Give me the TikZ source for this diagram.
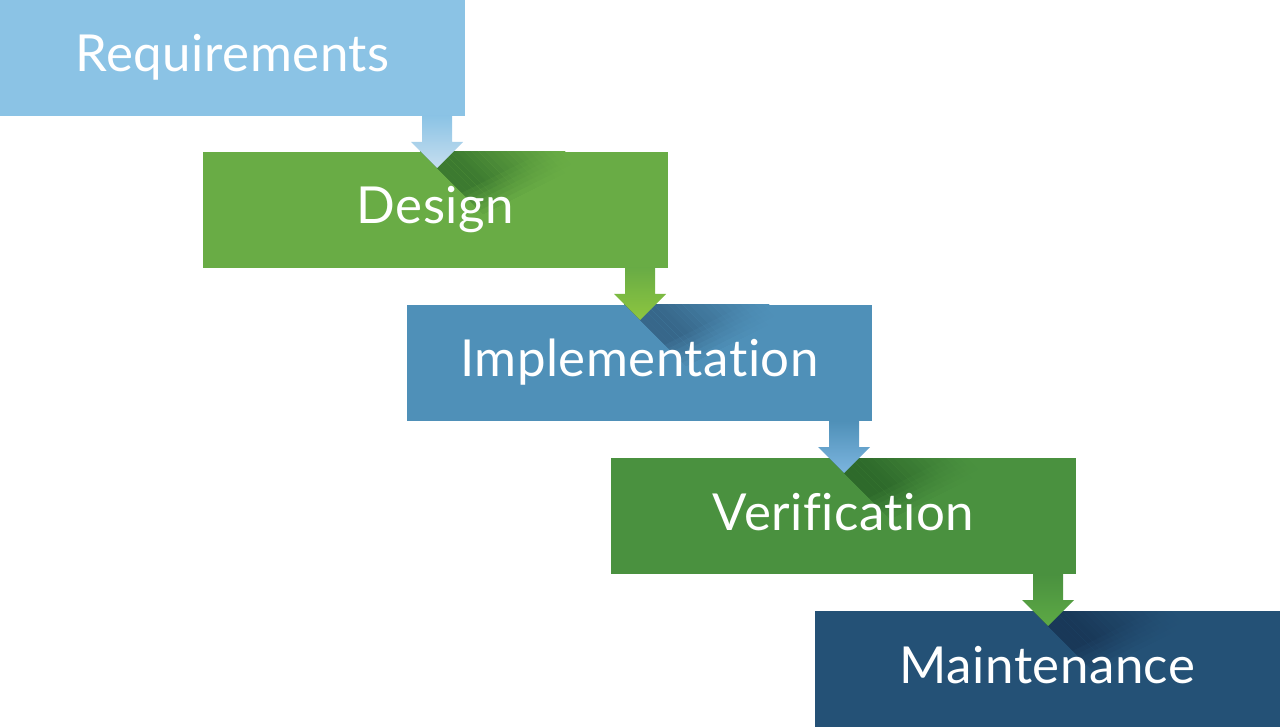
\documentclass[tikz,border=0pt]{standalone}
\usepackage{fontspec}
\setmainfont{Lato}[Ligatures={NoCommon}, LetterSpace=1]
\usetikzlibrary{calc}
\definecolor{reqc}{HTML}{8BC3E5}
\definecolor{desc}{HTML}{69AC45}
\definecolor{impc}{HTML}{4F90B8}
\definecolor{verc}{HTML}{4A913F}
\definecolor{mntc}{HTML}{245176}
\definecolor{reqtip}{HTML}{C6DEEF}
\definecolor{destip}{HTML}{8DC63F}
\definecolor{imptip}{HTML}{7CB5DF}
\definecolor{vertip}{HTML}{5DA945}
\definecolor{desdk}{HTML}{3C7A30}
\definecolor{impdk}{HTML}{37678A}
\definecolor{verdk}{HTML}{2E6A2B}
\definecolor{mntdk}{HTML}{193858}
\tikzset{
  stagebox/.style={fill=#1, draw=none, inner sep=0pt, outer sep=0pt,
    minimum width=465pt, minimum height=116pt, anchor=north west},
  stagelabel/.style={text=white, font=\fontsize{51}{61}\selectfont,
    anchor=base, inner sep=0pt},
}
\begin{document}
\begin{tikzpicture}[x=1pt,y=-1pt]
\useasboundingbox (0,0) rectangle (1280,727);
% stage boxes
\node[stagebox=reqc] (req) at (0,0) {};
\node[stagebox=desc] (des) at (203,152) {};
\node[stagebox=impc] (imp) at (407,305) {};
\node[stagebox=verc] (ver) at (611,458) {};
\node[stagebox=mntc] (mnt) at (815,611) {};
% shadows cast by the arrow heads
\foreach \src/\dst/\dk/\bx in {req/des/desdk/desc, des/imp/impdk/impc, imp/ver/verdk/verc, ver/mnt/mntdk/mntc}{
  \coordinate (\src-tip) at ($(\src.south east)+(-28,52)$);
  \begin{scope}
    \clip (\dst.north west) rectangle (\dst.south east);
    \begin{scope}[shift={(\src-tip)}, rotate=45]
      \foreach \jj in {20,...,1}{
        \foreach \kk in {7,...,1}{
          \pgfmathsetmacro\uu{\jj*5.1}
          \pgfmathsetmacro\ll{30+5*\kk}
          \pgfmathsetmacro\vv{\ll+0.33*\uu}
          \pgfmathsetmacro\gg{min(1,1.25*(1-(\jj-0.5)/20))}
          \pgfmathtruncatemacro\pct{100*(\gg^1.1)*(8-\kk)/7}
          \fill[\dk!\pct!\bx] (0,-40) -- (\uu,-40) -- (\uu,\vv) -- (0,\ll) -- cycle;
        }
      }
    \end{scope}
  \end{scope}
}
% block arrows between stages
\foreach \src/\dst/\cc/\tc in {req/des/reqc/reqtip, des/imp/desc/destip, imp/ver/impc/imptip, ver/mnt/verc/vertip}{
  \coordinate (\src-out) at ($(\src.south east)+(-28,0)$);
  \begin{scope}[shift={(\src-out)}]
    \shade[top color=\cc, bottom color=\tc]
      (-15,0) -- (15,0) -- (15,26) -- (26,26) -- (0,52) -- (-26,26) -- (-15,26) -- cycle;
  \end{scope}
}
% labels
\node[stagelabel] (reqlabel) at ($(req.north)+(0,72)$) {Requirements};
\node[stagelabel] (deslabel) at ($(des.north)+(0,72)$) {Design};
\node[stagelabel] (implabel) at ($(imp.north)+(0,72)$) {Implementation};
\node[stagelabel] (verlabel) at ($(ver.north)+(0,72)$) {Verification};
\node[stagelabel] (mntlabel) at ($(mnt.north)+(0,72)$) {Maintenance};
\end{tikzpicture}
\end{document}
